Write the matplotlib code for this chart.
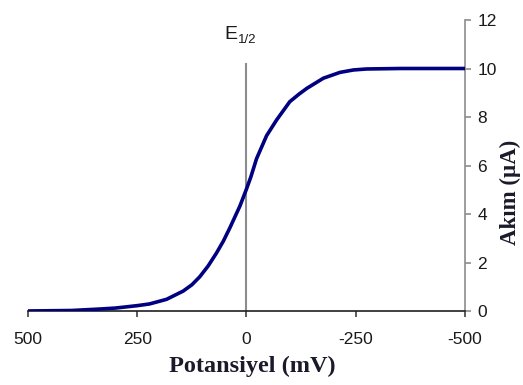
import matplotlib
matplotlib.use("Agg")
import matplotlib.pyplot as plt

# Data
potential_mv = [500, 400, 336, 300, 250, 222, 183, 145, 125, 107, 88, 69, 53, 38,
                15, 0, -10, -23, -46, -69, -99, -120, -138, -176, -214, -245,
                -275, -352, -400, -500]
current_ua = [0.02, 0.04, 0.1, 0.14, 0.24, 0.31, 0.5, 0.84, 1.1, 1.43, 1.87, 2.4,
              2.9, 3.45, 4.35, 5.05, 5.55, 6.3, 7.25, 7.9, 8.65, 8.96, 9.2, 9.62,
              9.86, 9.96, 10.0, 10.02, 10.02, 10.02]
x_ticks = [500, 250, 0, -250, -500]
x_tick_labels = ["500", "250", "0", "-250", "-500"]
y_ticks = [0, 2, 4, 6, 8, 10, 12]
e_half = 0
e_half_line_top = 10.25

fig = plt.figure(figsize=(5.23, 3.85), dpi=100)
ax = fig.add_axes([0.0535, 0.191, 0.8356, 0.7558])

ax.plot(potential_mv, current_ua, color="#000080", lw=2.6, zorder=3,
        solid_capstyle="butt", solid_joinstyle="round")
ax.vlines(e_half, 0, e_half_line_top, color="#8c8c8c", lw=1.5, zorder=2)

ax.set_xlim(500, -500)
ax.set_ylim(0, 12)

for s in ["top", "left"]:
    ax.spines[s].set_visible(False)
ax.spines["bottom"].set_color("#202020")
ax.spines["bottom"].set_linewidth(1.2)
ax.spines["right"].set_color("#8c8c8c")
ax.spines["right"].set_linewidth(1.2)

ax.yaxis.tick_right()
ax.set_xticks(x_ticks)
ax.set_xticklabels(x_tick_labels)
ax.set_yticks(y_ticks)
ax.tick_params(axis="x", direction="out", length=4, width=1.2, color="#404040",
               pad=11, labelsize=12.5)
ax.tick_params(axis="y", direction="out", length=4, width=1.2, color="#8c8c8c",
               pad=5, labelsize=12.5)
for lab in ax.get_xticklabels() + ax.get_yticklabels():
    lab.set_family("Liberation Sans")
    lab.set_color("#1a1a1a")

fig.text(0.482, 0.049, "Potansiyel (mV)", family="Liberation Serif",
         weight="bold", fontsize=17.5, ha="center", va="center", color="#1a1a2a")
fig.text(0.976, 0.50, "Akım (µA)", family="Liberation Serif", weight="bold",
         fontsize=16.5, rotation=90, ha="center", va="center", color="#1a1a2a")

ax.annotate("E", xy=(e_half, e_half_line_top), xytext=(-16, 14),
            textcoords="offset points", family="Liberation Sans",
            fontsize=14, ha="left", va="bottom", color="#1a1a1a")
ax.annotate("1/2", xy=(e_half, e_half_line_top), xytext=(-6.5, 12),
            textcoords="offset points", family="Liberation Sans",
            fontsize=9.5, ha="left", va="bottom", color="#1a1a1a")

fig.savefig("out.png", dpi=100)
